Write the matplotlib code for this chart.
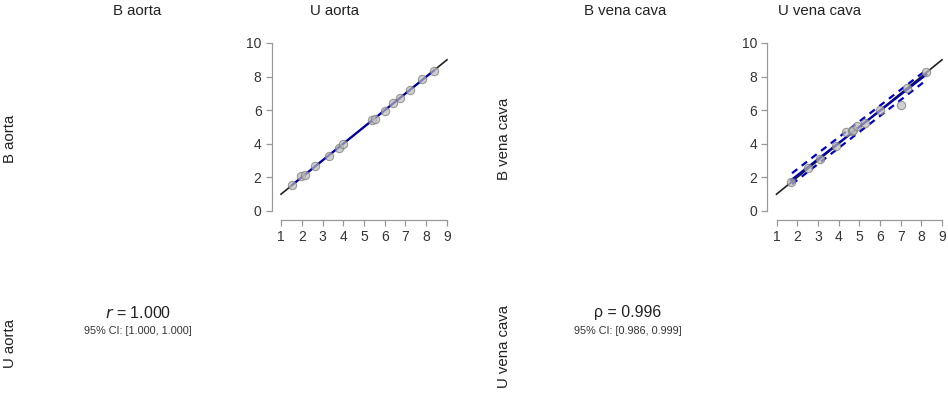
import matplotlib
matplotlib.use("Agg")
import matplotlib.pyplot as plt
import numpy as np

plt.rcParams["font.family"] = ["Liberation Sans", "DejaVu Sans"]

# aorta: B (y) vs U (x)
aorta_u = [1.55, 1.95, 2.15, 2.65, 3.3, 3.8, 4.0, 5.4, 5.55, 6.0, 6.4, 6.75, 7.2, 7.8, 8.35]
aorta_b = [1.55, 2.1, 2.15, 2.65, 3.3, 3.75, 4.0, 5.4, 5.5, 5.95, 6.4, 6.75, 7.2, 7.85, 8.35]

# vena cava: B (y) vs U (x)
vc_u = [1.7, 2.5, 3.1, 3.9, 4.35, 4.65, 4.7, 4.9, 5.3, 6.0, 7.0, 7.3, 8.25]
vc_b = [1.75, 2.55, 3.1, 3.85, 4.7, 4.75, 4.8, 5.05, 5.25, 6.0, 6.3, 7.35, 8.3]

# dashed interval lines on the vena cava panel (endpoints)
vc_band_x = [1.75, 8.25]
vc_upper = [2.25, 8.4]
vc_lower = [1.6, 7.8]

col_titles = ["B aorta", "U aorta", "B vena cava", "U vena cava"]
stat_labels = [r"$r$ = 1.000", "\u03c1 = 0.996"]
ci_labels = ["95% CI: [1.000, 1.000]", "95% CI: [0.986, 0.999]"]

W, H = 948, 395
fig = plt.figure(figsize=(W / 100, H / 100), dpi=100)


def px_axes(x0, x1, y0, y1):
    return fig.add_axes([x0 / W, 1 - y1 / H, (x1 - x0) / W, (y1 - y0) / H])


def scatter_panel(ax, x, y, band=None):
    ax.set_xlim(1, 9)
    ax.set_ylim(0, 10)
    ax.plot([1, 9], [1, 9], color="#222222", lw=1.2, zorder=2, clip_on=False)
    xs = np.array([min(x), max(x)])
    slope, icpt = np.polyfit(x, y, 1)
    ax.plot(xs, icpt + slope * xs, color="#0000aa", lw=1.6, zorder=3, clip_on=False)
    if band is not None:
        bx, up, lo = band
        ax.plot(bx, up, color="#0000cc", lw=1.6, ls=(0, (3, 2.5)), zorder=3, clip_on=False)
        ax.plot(bx, lo, color="#0000cc", lw=1.6, ls=(0, (3, 2.5)), zorder=3, clip_on=False)
    ax.plot(x, y, "o", ms=6, mfc="#bbbbbb", mec="#777777", mew=0.8, alpha=0.7,
            zorder=4, clip_on=False)
    for s in ["top", "right"]:
        ax.spines[s].set_visible(False)
    ax.spines["left"].set_position(("outward", 6.5))
    ax.spines["bottom"].set_position(("outward", 6.5))
    ax.spines["left"].set_bounds(0, 10)
    ax.spines["bottom"].set_bounds(1, 9)
    for s in ["left", "bottom"]:
        ax.spines[s].set_color("#999999")
        ax.spines[s].set_linewidth(0.9)
    ax.set_xticks(range(1, 10))
    ax.set_yticks(range(0, 11, 2))
    ax.tick_params(colors="#999999", labelcolor="#333333", labelsize=10, length=4, width=0.9)
    ax.patch.set_alpha(0)


ax1 = px_axes(281, 447, 43, 211)
scatter_panel(ax1, aorta_u, aorta_b)
ax2 = px_axes(776.5, 942, 43, 211)
scatter_panel(ax2, vc_u, vc_b, band=(vc_band_x, vc_upper, vc_lower))

# column titles
for xp, t in zip([137, 335, 625, 820], col_titles):
    fig.text(xp / W, 1 - 11 / H, t, ha="center", va="center", fontsize=10.8, color="#222222")

# row labels
for xp, yp, t in [(10, 139, "B aorta"), (10, 344, "U aorta"),
                  (504, 139, "B vena cava"), (504, 346, "U vena cava")]:
    fig.text(xp / W, 1 - yp / H, t, ha="center", va="center", rotation=90,
             fontsize=10.8, color="#222222")

# correlation text
for xp, s, c in zip([138, 628], stat_labels, ci_labels):
    fig.text(xp / W, 1 - 313 / H, s, ha="center", va="center", fontsize=11.5, color="#222222")
    fig.text(xp / W, 1 - 331 / H, c, ha="center", va="center", fontsize=7.8, color="#333333")

fig.savefig("out.png", dpi=100)
